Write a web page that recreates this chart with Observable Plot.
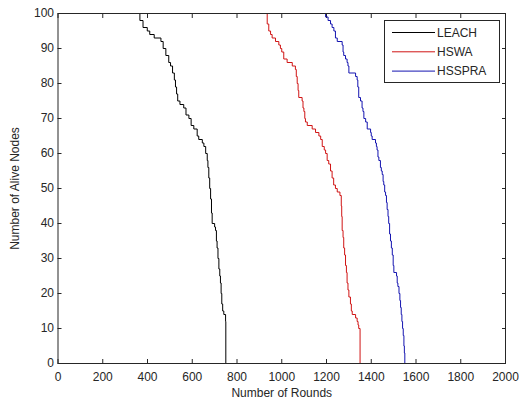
<!DOCTYPE html>
<html><head><meta charset="utf-8">
<script src="https://cdn.jsdelivr.net/npm/d3@7"></script>
<script src="https://cdn.jsdelivr.net/npm/@observablehq/plot@0.6"></script>
<style>
html,body{margin:0;padding:0;background:#fff;}
#chart{position:relative;width:519px;height:399px;}
</style></head><body><div id="chart"></div>
<script>
const seriesNames = ["LEACH", "HSWA", "HSSPRA"];
const seriesColors = ["#000000", "#d01414", "#1414b0"];

const leachRounds = [358,366,380,399,410,430,460,470,482,495,503,512,520,525,530,535,545,562,572,585,595,607,622,629,645,652,660,667,670,674,678,682,686,689,700,704,708,711,715,719,723,726,729,732,736,741,749,750];
const leachAlive  = [100,98,96,95,94,93,92,90,88,86,85,83,81,79,77,75,74,73,71,70,68,67,65,64,63,62,60,58,56,53,50,47,43,40,39,38,35,33,30,27,25,23,20,17,15,14,12,0];

const hswaRounds = [930,935,942,950,957,972,987,994,1000,1009,1024,1047,1061,1065,1069,1073,1076,1091,1095,1099,1103,1106,1114,1136,1151,1166,1174,1181,1190,1196,1203,1210,1218,1225,1232,1240,1248,1260,1266,1268,1270,1274,1277,1281,1285,1289,1292,1296,1300,1307,1311,1315,1330,1337,1341,1344,1350];
const hswaAlive  = [100,97,95,94,93,92,91,90,89,87,86,85,84,82,80,78,76,75,73,72,70,69,68,67,66,65,64,62,61,60,58,57,55,53,51,50,49,48,45,42,38,36,33,31,28,26,23,21,19,17,15,14,13,12,11,10,0];

const hsspraRounds = [1181,1196,1207,1218,1225,1233,1240,1248,1270,1274,1277,1285,1292,1296,1300,1330,1337,1340,1344,1352,1359,1363,1367,1375,1382,1397,1400,1404,1419,1423,1426,1430,1434,1441,1445,1449,1453,1456,1460,1464,1468,1471,1475,1478,1482,1486,1490,1494,1498,1501,1513,1516,1519,1524,1528,1531,1534,1537,1540,1543,1546,1548,1550];
const hsspraAlive  = [100,99,98,97,96,95,93,92,91,89,88,87,86,85,83,82,81,79,76,75,73,72,70,69,67,66,65,64,63,62,61,59,58,56,55,54,52,51,49,48,46,44,42,40,37,35,33,31,28,26,25,23,22,20,18,16,14,12,10,8,5,3,0];

const xTicks = [0,200,400,600,800,1000,1200,1400,1600,1800,2000];
const yTicks = [0,10,20,30,40,50,60,70,80,90,100];

const seriesRounds = [leachRounds, hswaRounds, hsspraRounds];
const seriesAlive = [leachAlive, hswaAlive, hsspraAlive];
const rows = [];
seriesNames.forEach((name, i) => {
  seriesRounds[i].forEach((r, j) => rows.push({series: name, round: r, alive: seriesAlive[i][j]}));
});

const ink = "#262626";
const fmt = d => String(d);
const plot = Plot.plot({
  width: 519, height: 399,
  marginLeft: 57.5, marginRight: 14, marginTop: 13, marginBottom: 36,
  style: {fontFamily: "'Liberation Sans', Arial, sans-serif", fontSize: "12px", color: ink, background: "#fff"},
  x: {domain: [0, 2000]},
  y: {domain: [0, 100]},
  color: {domain: seriesNames, range: seriesColors},
  marks: [
    Plot.axisX(xTicks, {anchor: "bottom", tickSize: -4, tickPadding: 13, tickFormat: fmt, label: "Number of Rounds", labelArrow: "none", labelAnchor: "center", labelOffset: 33}),
    Plot.axisX(xTicks, {anchor: "top", tickSize: -4, tickFormat: () => "", label: null}),
    Plot.axisY(yTicks, {anchor: "left", tickSize: -4, tickPadding: 8, tickFormat: fmt, label: "Number of Alive Nodes", labelArrow: "none", labelAnchor: "center", labelOffset: 47.5}),
    Plot.axisY(yTicks, {anchor: "right", tickSize: -4, tickFormat: () => "", label: null}),
    Plot.line(rows, {x: "round", y: "alive", z: "series", stroke: "series", curve: "step-after", strokeWidth: 1}),
    Plot.frame({stroke: ink})
  ]
});
document.getElementById("chart").appendChild(plot);

// legend box (MATLAB style, inside the axes, top-right)
const svg = d3.select(plot);
const lg = svg.append("g").attr("font-family", "'Liberation Sans', Arial, sans-serif").attr("font-size", 12).attr("text-anchor", "start");
lg.append("rect").attr("x", 384.5).attr("y", 20.5).attr("width", 115).attr("height", 62)
  .attr("fill", "#fff").attr("stroke", ink).attr("stroke-width", 1);
seriesNames.forEach((name, i) => {
  const y = 32.5 + i * 19.3;
  lg.append("line").attr("x1", 392).attr("x2", 435).attr("y1", y).attr("y2", y)
    .attr("stroke", seriesColors[i]).attr("stroke-width", 1);
  lg.append("text").attr("x", 437).attr("y", y).attr("dy", "0.36em").attr("text-anchor", "start").attr("fill", ink).text(name);
});
</script></body></html>
